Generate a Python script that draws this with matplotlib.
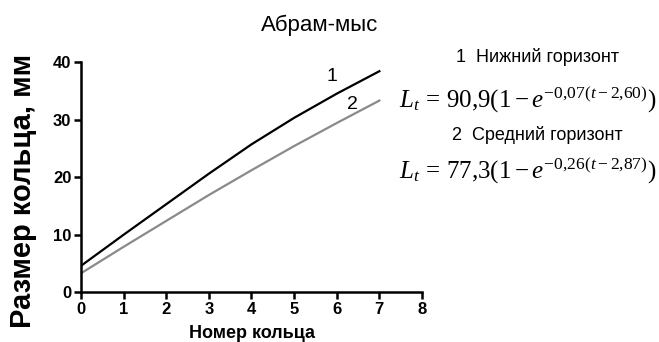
import matplotlib
matplotlib.use("Agg")
import matplotlib.pyplot as plt

plt.rcParams['font.family'] = ['Liberation Sans', 'DejaVu Sans']
plt.rcParams['mathtext.fontset'] = 'custom'
plt.rcParams['mathtext.rm'] = 'Liberation Serif'
plt.rcParams['mathtext.it'] = 'Liberation Serif:italic'

# ring number vs ring size
ring = [0, 1, 2, 3, 4, 5, 6, 7]
lower = [4.6, 10.0, 15.3, 20.6, 25.7, 30.3, 34.5, 38.4]   # 1 - lower horizon
middle = [3.3, 7.9, 12.4, 16.9, 21.2, 25.4, 29.4, 33.3]   # 2 - middle horizon

xticks = [0, 1, 2, 3, 4, 5, 6, 7, 8]
yticks = [0, 10, 20, 30, 40]

W, H = 659, 342
fig = plt.figure(figsize=(W / 100, H / 100), dpi=100)
ax = fig.add_axes([81/W, 1 - 292.3/H, (422 - 81)/W, (292.3 - 62)/H])

ax.plot(ring, lower, color="black", lw=1.6)
ax.plot(ring, middle, color="#8a8a8a", lw=1.6)

ax.set_xlim(0, 8)
ax.set_ylim(0, 40)
ax.set_xticks(xticks)
ax.set_yticks(yticks)
for s in ["top", "right"]:
    ax.spines[s].set_visible(False)
for s in ["left", "bottom"]:
    ax.spines[s].set_linewidth(1.8)
ax.tick_params(direction="out", length=5, width=1.8, labelsize=12, pad=2)
for lab in ax.get_xticklabels() + ax.get_yticklabels():
    lab.set_fontweight("bold")

ax.text(5.89, 37.4, "1", fontsize=14, ha="center", va="center")
ax.text(6.36, 32.6, "2", fontsize=14, ha="center", va="center")

# axis titles placed as in the picture
fig.text(23/W, 1 - 191/H, "Размер кольца, мм", fontsize=21, fontweight="bold",
         rotation=90, ha="center", va="center")
fig.text(252/W, 1 - 334/H, "Номер кольца", fontsize=13, fontweight="bold",
         ha="center", va="center")

fig.text(320/W, 1 - 25/H, "Абрам-мыс", fontsize=16, ha="center", va="center")
fig.text(537/W, 1 - 57/H, "1  Нижний горизонт", fontsize=13, ha="center", va="center")
fig.text(656/W, 1 - 99/H, r"$L_t\,=\,90{,}9(1-e^{-0{,}07(t-2{,}60)})$",
         fontsize=18, ha="right", va="center")
fig.text(537/W, 1 - 135/H, "2  Средний горизонт", fontsize=13, ha="center", va="center")
fig.text(656/W, 1 - 170/H, r"$L_t\,=\,77{,}3(1-e^{-0{,}26(t-2{,}87)})$",
         fontsize=18, ha="right", va="center")

fig.savefig("out.png", dpi=100)
